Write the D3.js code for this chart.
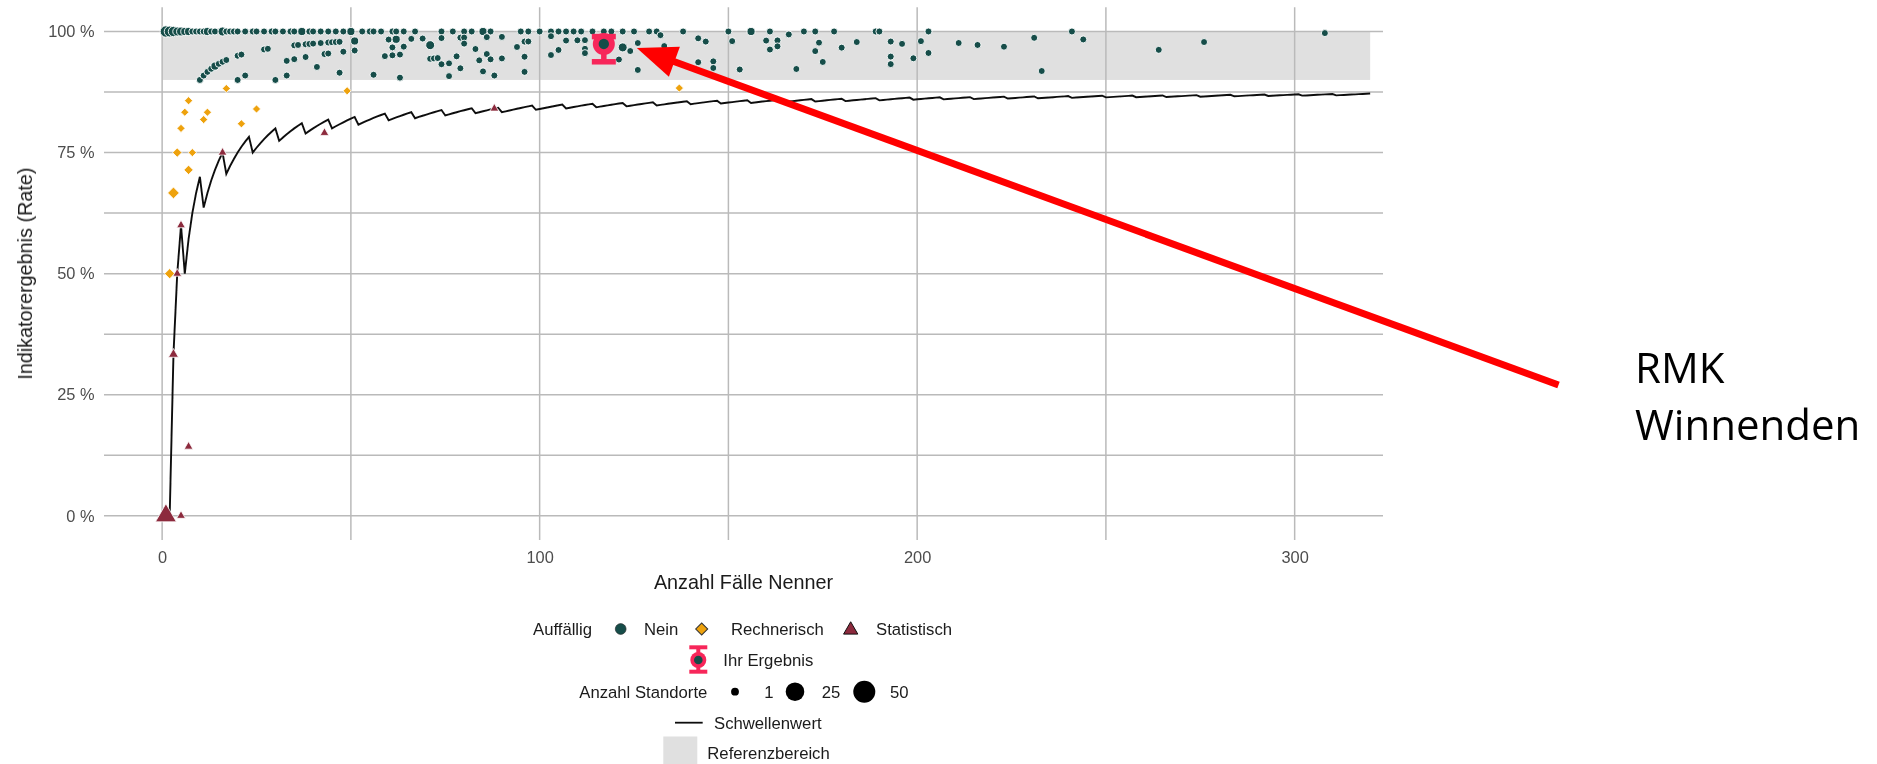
<!DOCTYPE html>
<html>
<head>
<meta charset="utf-8">
<script src="https://cdn.jsdelivr.net/npm/d3@7"></script>
<style>
  html, body { margin: 0; padding: 0; background: #fff; }
  svg { display: block; }
</style>
</head>
<body>
<svg id="chart" width="1877" height="764"></svg>
<script>
// ---------- data ----------
const xTickValues = [0, 100, 200, 300];
const xGridValues = [0, 50, 100, 150, 200, 250, 300];
const yTickValues = [0, 0.25, 0.5, 0.75, 1];
const yTickLabels = ["0 %", "25 %", "50 %", "75 %", "100 %"];
const yGridValues = [0, 0.125, 0.25, 0.375, 0.5, 0.625, 0.75, 0.875, 1];

// Referenzbereich: rate >= 90 %
const referenzRate = [0.9, 1.0];
const referenzNenner = [0, 320];

// Schwellenwert: number of cases that may fail, stepping up at these Nenner values
const schwelleVon = 2;
const schwelleBis = 320;
const schwelleStartFehler = 2;
const schwelleSprung = [6, 11, 17, 24, 31, 38, 45, 52, 60, 67, 75, 83, 90, 99, 107, 115, 123, 131,
  140, 148, 156, 164, 173, 181, 190, 199, 207, 215, 224, 232, 241, 250, 258, 266, 275, 284, 293, 302, 311];

// Auffällig = Nein, result 100 % (Zähler = Nenner)
const neinVollNenner = [1, 2, 3, 4, 5, 6, 7, 8, 9, 10, 11, 12, 13, 14, 16, 17, 18, 19, 20, 22, 24, 25, 27, 29, 30,
  32, 34, 35, 37, 39, 40, 42, 44, 46, 48, 50, 53, 55, 56, 58, 61, 62, 64, 67, 74, 77, 80, 82, 85, 87, 95, 97,
  100, 103, 105, 107, 109, 111, 114, 117, 119, 122, 125, 129, 131, 138, 150, 156, 161, 170, 173, 178, 189, 190, 203, 241];
const neinVollStandorte = [7, 6, 5, 3, 3, 2, 2, 1, 1, 1, 1, 2, 1, 1, 3, 1, 1, 1, 1, 1, 1, 1, 1, 1, 1,
  1, 1, 1, 2, 1, 1, 1, 1, 1, 1, 2, 1, 1, 1, 1, 1, 1, 1, 1, 1, 1, 1, 1, 2, 1, 1, 1,
  1, 1, 1, 1, 1, 1, 1, 1, 1, 1, 1, 1, 1, 1, 1, 2, 1, 1, 1, 1, 1, 1, 1, 1];

// Auffällig = Nein, result below 100 %
const neinNenner = [10, 11, 12, 13, 14, 15, 16, 17, 20, 21, 20, 22, 30, 33, 27, 28, 35, 36, 33, 35, 38, 41, 43, 44,
  38, 39, 40, 42, 44, 45, 46, 47, 48, 47, 51, 51, 56, 59,
  60, 62, 66, 69, 74, 79, 80, 86, 90, 96, 97, 61, 64, 71, 80, 83, 86, 94,
  61, 63, 71, 72, 73, 78, 84, 87, 90, 96, 74, 76, 79, 63, 76, 85, 88, 96,
  103, 103, 105, 107, 110, 112, 112, 112, 122, 121, 124, 126, 132, 133, 126, 142, 144, 142, 146, 146, 153, 151,
  160, 161, 163, 163, 166, 168, 173, 174, 175, 180, 184, 193, 193, 193, 196, 199, 201, 203, 211,
  216, 223, 231, 233, 244, 264, 276, 308];
const neinZaehler = [9, 10, 11, 12, 13, 14, 15, 16, 19, 20, 18, 20, 27, 30, 26, 27, 34, 35, 31, 33, 36, 38, 41, 42,
  37, 38, 39, 41, 43, 44, 45, 46, 46, 43, 50, 49, 51, 56,
  59, 61, 65, 68, 73, 78, 79, 85, 89, 94, 95, 59, 62, 69, 78, 80, 82, 91,
  58, 60, 67, 68, 69, 74, 79, 82, 85, 91, 69, 71, 73, 57, 69, 78, 80, 88,
  102, 98, 101, 105, 108, 110, 108, 107, 118, 114, 119, 123, 131, 129, 116, 140, 141, 133, 137, 135, 141, 148,
  157, 155, 160, 158, 165, 155, 166, 170, 164, 174, 180, 189, 183, 180, 191, 188, 197, 194, 206,
  210, 216, 228, 214, 240, 254, 270, 307];
const neinStandorte = [1, 1, 1, 1, 2, 1, 1, 1, 1, 1, 1, 1, 1, 1, 1, 1, 1, 1, 1, 1, 1, 1, 1, 1,
  1, 1, 1, 1, 1, 1, 1, 1, 1, 1, 2, 1, 1, 1,
  1, 2, 1, 1, 1, 1, 1, 1, 1, 1, 1, 1, 1, 3, 1, 1, 1, 1,
  1, 1, 1, 1, 1, 1, 1, 1, 1, 1, 1, 1, 1, 1, 1, 1, 1, 1,
  1, 1, 1, 1, 1, 1, 1, 1, 3, 1, 1, 1, 1, 1, 1, 1, 1, 1, 1, 1, 1, 1,
  1, 1, 1, 1, 1, 1, 1, 1, 1, 1, 1, 1, 1, 1, 1, 1, 1, 1, 1,
  1, 1, 1, 1, 1, 1, 1, 1];

// Auffällig = Rechnerisch
const rechNenner = [2, 3, 4, 5, 6, 7, 7, 8, 11, 12, 17, 21, 25, 49, 137];
const rechZaehler = [1, 2, 3, 4, 5, 6, 5, 6, 9, 10, 15, 17, 21, 43, 121];
const rechStandorte = [3, 5, 2, 1, 1, 1, 2, 1, 1, 1, 1, 1, 1, 1, 1];

// Auffällig = Statistisch
const statNenner = [1, 5, 7, 3, 4, 5, 16, 43, 88];
const statZaehler = [0, 0, 1, 1, 2, 3, 12, 34, 74];
const statStandorte = [25, 1, 1, 2, 1, 1, 1, 1, 1];

// Ihr Ergebnis with confidence interval
const ihrNenner = 117;
const ihrZaehler = 114;
const ihrIntervall = [0.9375, 0.9895];

const legendeGroessen = [1, 25, 50];
const annotation = ["RMK", "Winnenden"];

// ---------- setup ----------
const COL_NEIN = "#174e4a";
const COL_RECH = "#eea20e";
const COL_STAT = "#8c2a3c";
const COL_IHR = "#f7285a";
const COL_GRID = "#bababa";
const FONT = "'Liberation Sans', Arial, Helvetica, sans-serif";

const svg = d3.select("#chart");
const defs = svg.append("defs");
defs.append("filter").attr("id", "soft").attr("x", "-2%").attr("y", "-2%").attr("width", "104%").attr("height", "104%")
  .append("feGaussianBlur").attr("stdDeviation", 0.55);

const plot = svg.append("g").attr("filter", "url(#soft)");

const x = d3.scaleLinear().domain([-15.4, 323.4]).range([104, 1383]);
const y = d3.scaleLinear().domain([-0.05, 1.05]).range([540, 7.3]);
const r = d3.scalePow().exponent(0.5).domain([1, 25, 50]).range([3.9, 9.3, 11]);

// Referenzbereich band
plot.append("rect")
  .attr("x", x(referenzNenner[0])).attr("width", x(referenzNenner[1]) - x(referenzNenner[0]))
  .attr("y", y(referenzRate[1])).attr("height", y(referenzRate[0]) - y(referenzRate[1]))
  .attr("fill", "#e0e0e0");

// grid
const [px0, px1] = x.range();
const [py0, py1] = y.range();
plot.append("g").selectAll("line").data(yGridValues).join("line")
  .attr("x1", px0).attr("x2", px1).attr("y1", d => y(d)).attr("y2", d => y(d))
  .attr("stroke", COL_GRID).attr("stroke-width", 1.5);
plot.append("g").selectAll("line").data(xGridValues).join("line")
  .attr("y1", py1).attr("y2", py0).attr("x1", d => x(d)).attr("x2", d => x(d))
  .attr("stroke", COL_GRID).attr("stroke-width", 1.5);

// axes (labels only, no domain or ticks)
const xAxis = d3.axisBottom(x).tickValues(xTickValues).tickSize(0).tickPadding(0).tickFormat(d3.format("d"));
plot.append("g").attr("transform", `translate(0,${py0 + 11})`).call(xAxis)
  .call(g => g.select(".domain").remove())
  .call(g => g.selectAll("text").attr("font-family", FONT).attr("font-size", 16.4).attr("fill", "#4d4d4d").attr("dy", "0.71em"));
const yAxis = d3.axisLeft(y).tickValues(yTickValues).tickSize(0).tickPadding(9.4).tickFormat((d, i) => yTickLabels[i]);
plot.append("g").attr("transform", `translate(${px0},0)`).call(yAxis)
  .call(g => g.select(".domain").remove())
  .call(g => g.selectAll("text").attr("font-family", FONT).attr("font-size", 16.4).attr("fill", "#4d4d4d"));

// axis titles
plot.append("text").attr("x", (px0 + px1) / 2).attr("y", 589).attr("text-anchor", "middle")
  .attr("font-family", FONT).attr("font-size", 19.8).attr("fill", "#1a1a1a").text("Anzahl Fälle Nenner");
plot.append("text").attr("transform", `translate(32,${(py0 + py1) / 2}) rotate(-90)`).attr("text-anchor", "middle")
  .attr("font-family", FONT).attr("font-size", 19.8).attr("fill", "#1a1a1a").text("Indikatorergebnis (Rate)");

// Schwellenwert line
const schwelle = d3.range(schwelleVon, schwelleBis + 1).map(n => {
  const fehler = schwelleStartFehler + schwelleSprung.filter(s => s <= n).length;
  return { n, rate: (n - fehler) / n };
});
plot.append("path").datum(schwelle)
  .attr("d", d3.line().x(d => x(d.n)).y(d => y(d.rate)))
  .attr("fill", "none").attr("stroke", "#111").attr("stroke-width", 1.9).attr("stroke-linejoin", "miter");

// points
const nein = neinVollNenner.map((n, i) => ({ n, k: n, c: neinVollStandorte[i] }))
  .concat(neinNenner.map((n, i) => ({ n, k: neinZaehler[i], c: neinStandorte[i] })));
const rech = rechNenner.map((n, i) => ({ n, k: rechZaehler[i], c: rechStandorte[i] }));
const stat = statNenner.map((n, i) => ({ n, k: statZaehler[i], c: statStandorte[i] }));

plot.append("g").selectAll("circle").data(nein).join("circle")
  .attr("cx", d => x(d.n)).attr("cy", d => y(d.k / d.n)).attr("r", d => r(d.c) - 0.4)
  .attr("fill", COL_NEIN).attr("stroke", "#fff").attr("stroke-width", 0.9);

const symArea = c => Math.PI * r(c) * r(c) * 0.7;
plot.append("g").selectAll("path").data(rech).join("path")
  .attr("transform", d => `translate(${x(d.n)},${y(d.k / d.n)}) rotate(45)`)
  .attr("d", d => d3.symbol().type(d3.symbolSquare).size(symArea(d.c))())
  .attr("fill", COL_RECH).attr("stroke", "#fff").attr("stroke-width", 0.8);

plot.append("g").selectAll("path").data(stat).join("path")
  .attr("transform", d => `translate(${x(d.n)},${y(d.k / d.n)})`)
  .attr("d", d => d3.symbol().type(d3.symbolTriangle).size(symArea(d.c))())
  .attr("fill", COL_STAT).attr("stroke", "#fff").attr("stroke-width", 0.8);

// Ihr Ergebnis
function ihrMarker(g, cx, yTop, yMid, yBot, capW, lw, ringR, dotR) {
  g.append("line").attr("x1", cx).attr("x2", cx).attr("y1", yTop).attr("y2", yBot)
    .attr("stroke", COL_IHR).attr("stroke-width", lw);
  g.append("line").attr("x1", cx - capW / 2).attr("x2", cx + capW / 2).attr("y1", yTop).attr("y2", yTop)
    .attr("stroke", COL_IHR).attr("stroke-width", lw);
  g.append("line").attr("x1", cx - capW / 2).attr("x2", cx + capW / 2).attr("y1", yBot).attr("y2", yBot)
    .attr("stroke", COL_IHR).attr("stroke-width", lw);
  g.append("circle").attr("cx", cx).attr("cy", yMid).attr("r", ringR).attr("fill", COL_IHR);
  g.append("circle").attr("cx", cx).attr("cy", yMid).attr("r", dotR).attr("fill", COL_NEIN);
}
const ihrX = x(ihrNenner), ihrY = y(ihrZaehler / ihrNenner);
ihrMarker(plot.append("g"), ihrX, y(ihrIntervall[1]), ihrY, y(ihrIntervall[0]), 24, 5.5, 11, 5.2);

// ---------- legend ----------
const leg = plot.append("g").attr("font-family", FONT).attr("font-size", 16.7).attr("fill", "#1a1a1a");
const txt = (xx, yy, s) => leg.append("text").attr("x", xx).attr("y", yy).attr("dy", "0.35em").text(s);

// row 1: Auffällig
const row1 = 629;
txt(533, row1, "Auffällig");
leg.append("circle").attr("cx", 620.7).attr("cy", row1).attr("r", 5.4).attr("fill", COL_NEIN).attr("stroke", "#222").attr("stroke-width", 0.6);
txt(644, row1, "Nein");
leg.append("path").attr("transform", `translate(701.7,${row1}) rotate(45)`)
  .attr("d", d3.symbol().type(d3.symbolSquare).size(72)()).attr("fill", COL_RECH).attr("stroke", "#333").attr("stroke-width", 1);
txt(731, row1, "Rechnerisch");
leg.append("path").attr("transform", `translate(850.7,${row1 + 1})`)
  .attr("d", d3.symbol().type(d3.symbolTriangle).size(88)()).attr("fill", COL_STAT).attr("stroke", "#111").attr("stroke-width", 1);
txt(876, row1, "Statistisch");

// row 2: Ihr Ergebnis
const row2 = 660;
ihrMarker(leg.append("g"), 698.3, 647.3, row2, 671.7, 18, 4, 8, 4.3);
txt(723.3, row2, "Ihr Ergebnis");

// row 3: Anzahl Standorte
const row3 = 691.7;
txt(579.3, row3, "Anzahl Standorte");
const sizeKeyX = [735, 795, 864.3];
const sizeLabelX = [764.3, 821.7, 890];
legendeGroessen.forEach((c, i) => {
  leg.append("circle").attr("cx", sizeKeyX[i]).attr("cy", row3).attr("r", r(c)).attr("fill", "#000");
  txt(sizeLabelX[i], row3, String(c));
});

// row 4: Schwellenwert
const row4 = 722.7;
leg.append("line").attr("x1", 675).attr("x2", 702.7).attr("y1", row4).attr("y2", row4).attr("stroke", "#111").attr("stroke-width", 1.8);
txt(714, row4, "Schwellenwert");

// row 5: Referenzbereich
const row5 = 752.7;
leg.append("rect").attr("x", 663.3).attr("y", 736.5).attr("width", 34).attr("height", 34).attr("fill", "#e0e0e0");
txt(707.3, row5, "Referenzbereich");

// ---------- annotation ----------
const tip = [ihrX + 33, ihrY + 4];
const tail = [1558.5, 385];
const ang = Math.atan2(tail[1] - tip[1], tail[0] - tip[0]);
const ux = Math.cos(ang), uy = Math.sin(ang);
const headLen = 40, headHalf = 16;
const base = [tip[0] + ux * headLen, tip[1] + uy * headLen];
svg.append("line").attr("x1", base[0] - ux * 2).attr("y1", base[1] - uy * 2).attr("x2", tail[0]).attr("y2", tail[1])
  .attr("stroke", "#ff0000").attr("stroke-width", 7);
svg.append("path")
  .attr("d", `M${tip[0]},${tip[1]}L${base[0] - uy * headHalf},${base[1] + ux * headHalf}L${base[0] + uy * headHalf},${base[1] - ux * headHalf}Z`)
  .attr("fill", "#ff0000");

svg.append("g").attr("font-family", "'Open Sans', Lato, sans-serif").attr("font-size", 42).attr("fill", "#000")
  .selectAll("text").data(annotation).join("text")
  .attr("x", 1635).attr("y", (d, i) => 383.3 + i * 56.7).text(d => d);
</script>
</body>
</html>
